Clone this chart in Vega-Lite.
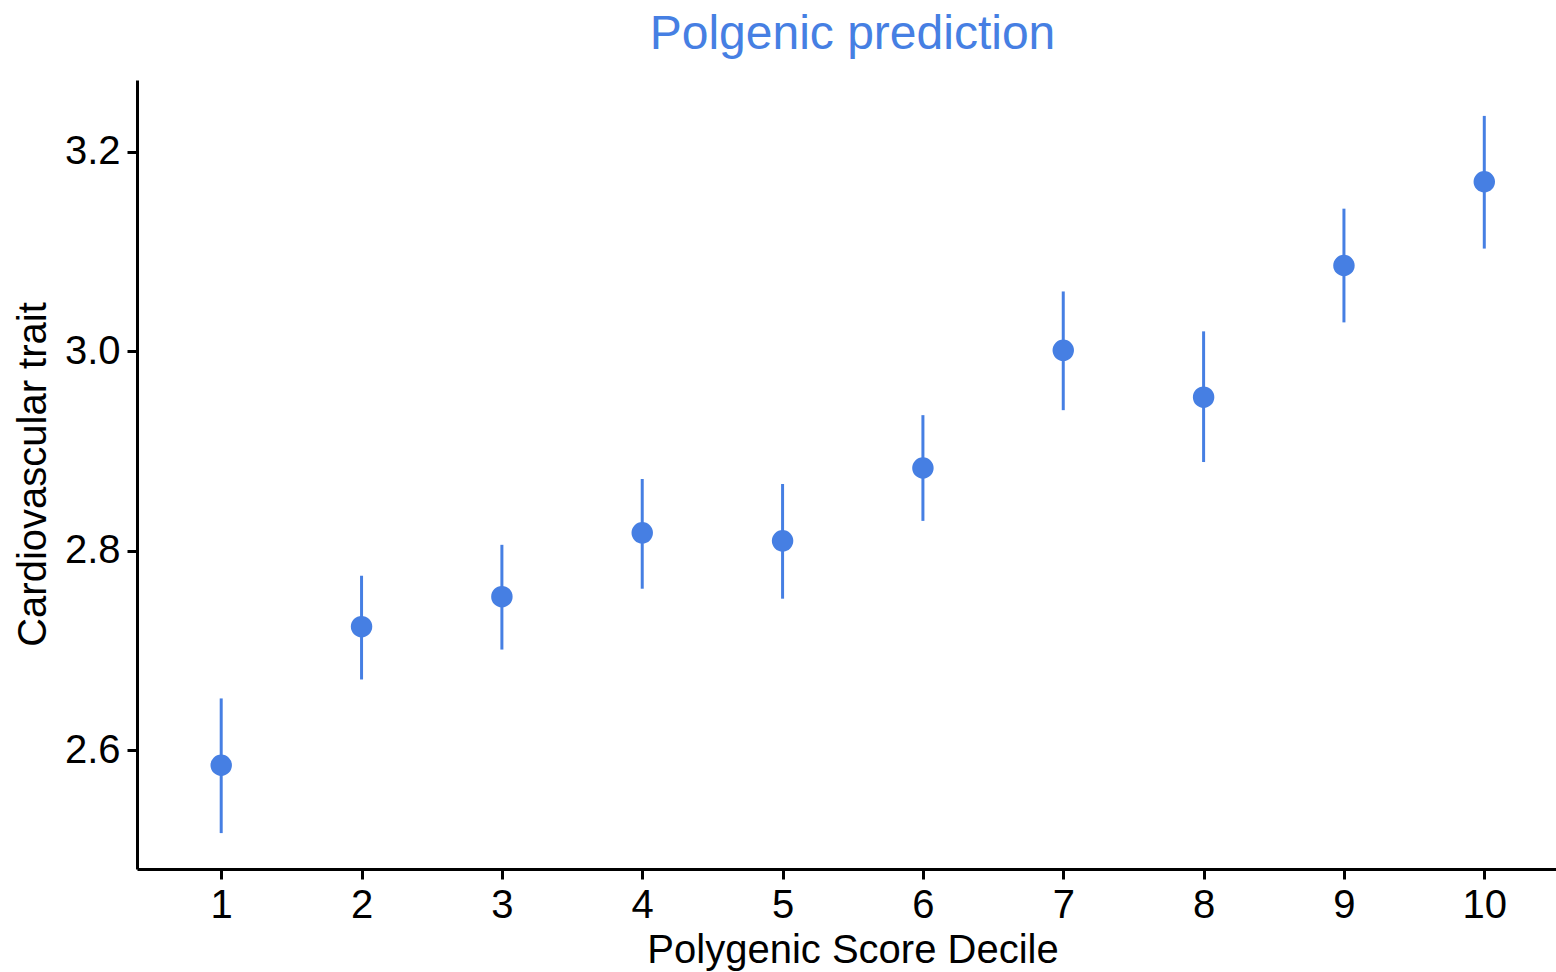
{
  "$schema": "https://vega.github.io/schema/vega-lite/v6.json",
  "autosize": "none",
  "width": 1419,
  "height": 789,
  "padding": {"left": 137, "top": 80, "right": 0, "bottom": 103},
  "background": "white",
  "title": {
    "text": "Polgenic prediction",
    "color": "#467FE3",
    "font": "Liberation Sans",
    "fontSize": 48,
    "fontWeight": "normal",
    "anchor": "middle",
    "frame": "group",
    "baseline": "alphabetic",
    "offset": -17,
    "dx": 6
  },
  "data": {
    "values": [
      {"decile": 1, "mean": 2.585, "lower": 2.517, "upper": 2.652},
      {"decile": 2, "mean": 2.724, "lower": 2.671, "upper": 2.775},
      {"decile": 3, "mean": 2.754, "lower": 2.701, "upper": 2.806},
      {"decile": 4, "mean": 2.818, "lower": 2.762, "upper": 2.872},
      {"decile": 5, "mean": 2.810, "lower": 2.752, "upper": 2.867},
      {"decile": 6, "mean": 2.883, "lower": 2.830, "upper": 2.936},
      {"decile": 7, "mean": 3.001, "lower": 2.941, "upper": 3.060},
      {"decile": 8, "mean": 2.954, "lower": 2.889, "upper": 3.020},
      {"decile": 9, "mean": 3.086, "lower": 3.029, "upper": 3.143},
      {"decile": 10, "mean": 3.170, "lower": 3.103, "upper": 3.236}
    ]
  },
  "encoding": {
    "x": {
      "field": "decile",
      "type": "quantitative",
      "scale": {"domain": [0.4, 10.511], "nice": false, "zero": false},
      "axis": {
        "values": [1, 2, 3, 4, 5, 6, 7, 8, 9, 10],
        "format": "d",
        "title": "Polygenic Score Decile",
        "labelPadding": 6,
        "titleX": 715.5,
        "titleY": 93,
        "titleBaseline": "alphabetic",
        "titleAlign": "center"
      }
    }
  },
  "layer": [
    {
      "mark": {"type": "rule", "color": "#467FE3", "strokeWidth": 3},
      "encoding": {
        "y": {
          "field": "lower",
          "type": "quantitative",
          "scale": {"domain": [2.481, 3.272], "nice": false, "zero": false},
          "axis": {
            "values": [2.6, 2.8, 3.0, 3.2],
            "format": ".1f",
            "title": "Cardiovascular trait",
            "labelPadding": 7,
            "titleX": -92,
            "titleY": 394,
            "titleBaseline": "alphabetic",
            "titleAlign": "center",
            "titleAngle": 270
          }
        },
        "y2": {"field": "upper"}
      }
    },
    {
      "mark": {"type": "point", "filled": true, "shape": "circle", "color": "#467FE3", "opacity": 1, "size": 460},
      "encoding": {
        "y": {"field": "mean", "type": "quantitative"}
      }
    }
  ],
  "config": {
    "view": {"stroke": null},
    "axis": {
      "grid": false,
      "domainColor": "black",
      "domainWidth": 3,
      "tickColor": "black",
      "tickWidth": 3,
      "tickSize": 10,
      "labelColor": "black",
      "labelFont": "Liberation Sans",
      "labelFontSize": 40,
      "titleColor": "black",
      "titleFont": "Liberation Sans",
      "titleFontSize": 40,
      "titleFontWeight": "normal"
    }
  }
}
